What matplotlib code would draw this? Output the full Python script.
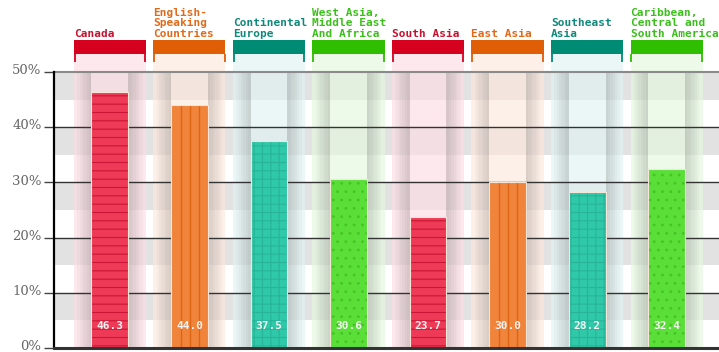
import numpy as np
import matplotlib as mpl
mpl.use("Agg")
import matplotlib.pyplot as plt
from matplotlib.patches import Rectangle
from matplotlib.transforms import ScaledTranslation

regions = ["Canada", "English-\nSpeaking\nCountries", "Continental\nEurope",
           "West Asia,\nMiddle East\nAnd Africa", "South Asia", "East Asia",
           "Southeast\nAsia", "Caribbean,\nCentral and\nSouth America"]
values = [46.3, 44.0, 37.5, 30.6, 23.7, 30.0, 28.2, 32.4]
yticks = [0, 10, 20, 30, 40, 50]

# colour families: red, orange, teal, green (repeat twice)
head_col = ["#d6001f", "#e05e06", "#008b74", "#2fbf00"]
text_col = ["#c8102e", "#e06a1a", "#11897a", "#3cbf1c"]
bar_col = ["#ee3a56", "#f0843a", "#2fc8a8", "#5ade38"]
line_col = ["#c81636", "#dc6412", "#28b498", "#45c424"]
tint_col = ["#fbdde4", "#fde8dc", "#dff3f2", "#e4f7de"]
hatches = ["--", None, "++", ".."]

plt.rcParams["hatch.linewidth"] = 0.8

fig = plt.figure(figsize=(7.19, 3.52), dpi=100)
ax = fig.add_axes([54 / 719, 4 / 352, 665 / 719, 276 / 352])
ax.set_xlim(-0.704, 7.66)
ax.set_ylim(0, 50)

# alternating grey bands
for lo in range(5, 50, 10):
    ax.axhspan(lo, lo + 5, color="#e2e2e2", zorder=0, lw=0)

x = np.arange(len(values))
colw = 0.906
barw = 0.465
for i, v in enumerate(values):
    k = i % 4
    # column tint (extends above the axes under the header)
    ax.add_patch(Rectangle((i - colw / 2, 0), colw, 53.26, color=tint_col[k],
                           alpha=0.65, lw=0, zorder=1, clip_on=False))
    # header box
    ax.add_patch(Rectangle((i - colw / 2, 53.26), colw, 2.55, color=head_col[k],
                           lw=0, zorder=5, clip_on=False))
    for xe in (i - colw / 2 + 0.01, i + colw / 2 - 0.01):
        ax.plot([xe, xe], [51.8, 53.3], color=head_col[k], lw=1.3,
                zorder=5, clip_on=False, solid_capstyle="butt")
    ax.text(i - colw / 2, 56.0, regions[i], color=text_col[k], fontsize=8,
            fontweight="bold", family="DejaVu Sans Mono", ha="left",
            va="bottom", linespacing=1.05, clip_on=False)
    # soft shadow beside the bar
    for s in range(1, 7):
        d = s * 0.03
        ax.add_patch(Rectangle((i - barw / 2 - d, 0), d, 50, color="black",
                               alpha=0.022, lw=0, zorder=2))
        ax.add_patch(Rectangle((i + barw / 2, 0), d, 50, color="black",
                               alpha=0.022, lw=0, zorder=2))

# grid lines
for t in [10, 20, 30, 40]:
    ax.axhline(t, color="#333333", lw=1, zorder=3)
ax.axhline(50, color="#8a8a8a", lw=1.5, zorder=3, clip_on=False)

# bars
for i, v in enumerate(values):
    k = i % 4
    ax.bar(x[i], v, width=barw, color=bar_col[k], edgecolor=line_col[k],
           hatch=hatches[k], lw=0, zorder=4)
    ax.bar(x[i], v, width=barw, fill=False, edgecolor="#f6e6da", lw=0.8,
           zorder=4.5)
    if k == 1:
        l = x[i] - barw / 2
        ax.vlines([l + barw * 0.27, l + barw * 0.52, l + barw * 0.77], 0, v,
                  color=line_col[k], lw=1, zorder=4.2)
    ax.text(x[i], 4.0, f"{v:.1f}", color="#f4f4f4", fontsize=8,
            fontweight="bold", family="DejaVu Sans Mono", ha="center",
            va="center", zorder=6)

ax.set_xticks([])
ax.set_yticks(yticks)
ax.set_yticklabels([f"{t}%" for t in yticks], color="#666666", fontsize=9.5,
                   family="DejaVu Serif")
ax.tick_params(axis="y", length=7, width=1, color="#444444", pad=2)
shift = ScaledTranslation(0, 2 / 72, fig.dpi_scale_trans)
for lab in ax.get_yticklabels():
    lab.set_transform(lab.get_transform() + shift)
for sp in ["top", "right"]:
    ax.spines[sp].set_visible(False)
ax.spines["left"].set_color("black")
ax.spines["left"].set_linewidth(1.6)
ax.spines["left"].set_zorder(7)
ax.spines["bottom"].set_color("#333333")
ax.spines["bottom"].set_linewidth(2.2)
ax.spines["bottom"].set_zorder(7)

fig.savefig("out.png", dpi=100, facecolor="white")
